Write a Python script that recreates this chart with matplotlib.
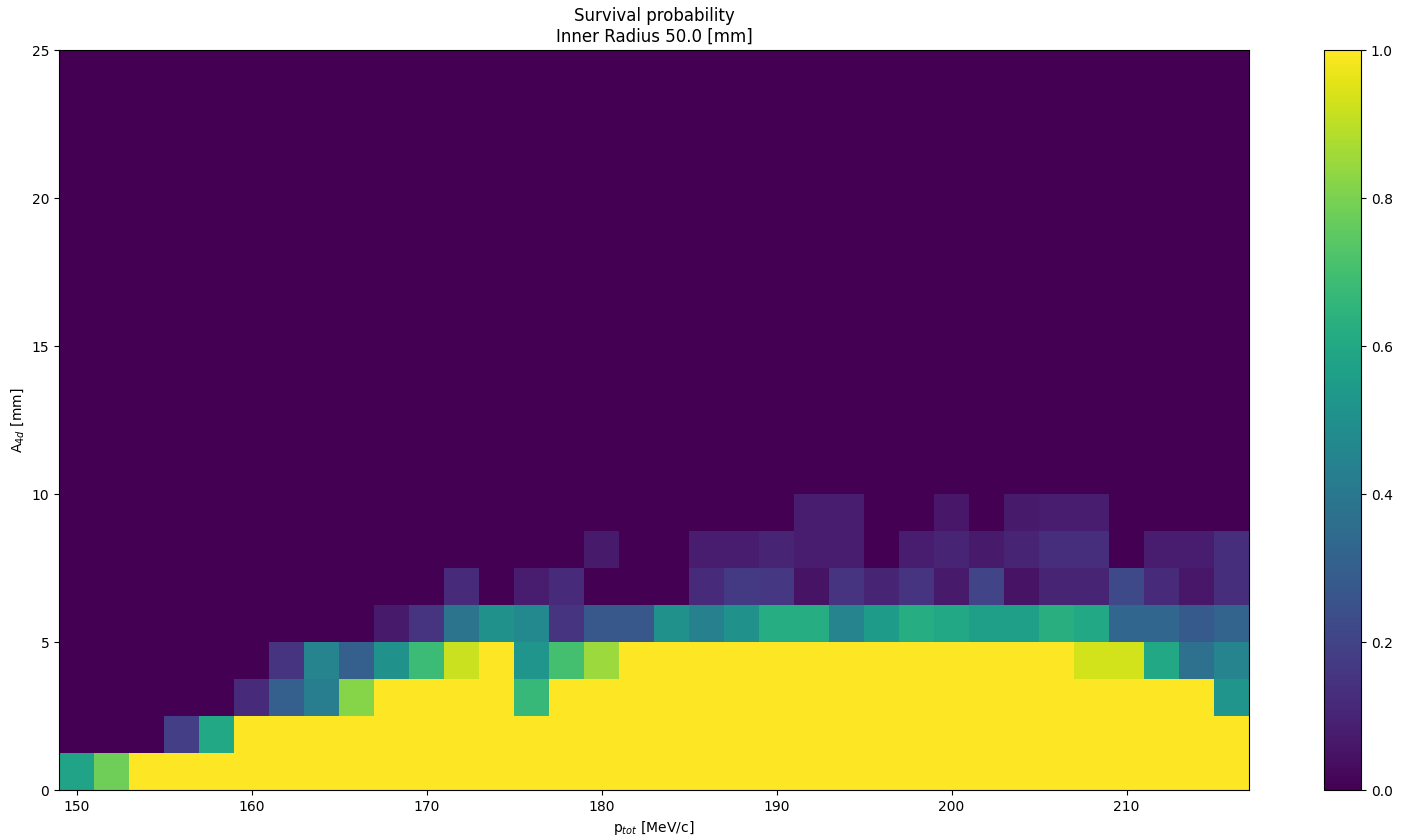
import numpy as np
import matplotlib
matplotlib.use("Agg")
import matplotlib.pyplot as plt

# bin edges
x_edges = np.arange(149, 219, 2)          # p_tot [MeV/c], 34 bins
y_edges = np.arange(0, 25.0001, 1.25)     # A_4d [mm], 20 bins

# survival probability per row (bottom row first), 34 columns each
row0 = [0.58, 0.78] + [1.0] * 32
row1 = [0, 0, 0, 0.18, 0.60] + [1.0] * 29
row2 = [0, 0, 0, 0, 0, 0.12, 0.30, 0.42, 0.82, 1, 1, 1, 1, 0.67] + [1.0] * 19 + [0.52]
row3 = [0] * 6 + [0.15, 0.45, 0.30, 0.50, 0.68, 0.92, 1, 0.52, 0.70, 0.85] + [1.0] * 13 + \
       [0.93, 0.93, 0.60, 0.37, 0.45]
row4 = [0] * 9 + [0.07, 0.15, 0.38, 0.50, 0.47, 0.15, 0.27, 0.27, 0.50, 0.43, 0.50, 0.62,
                  0.62, 0.45, 0.55, 0.62, 0.60, 0.56, 0.56, 0.63, 0.60, 0.33, 0.33, 0.28, 0.32]
row5 = [0] * 11 + [0.12, 0, 0.08, 0.12, 0, 0, 0, 0.12, 0.17, 0.16, 0.05, 0.15, 0.10, 0.15,
                   0.07, 0.20, 0.05, 0.10, 0.10, 0.22, 0.12, 0.06, 0.13]
row6 = [0] * 15 + [0.07, 0, 0, 0.08, 0.08, 0.10, 0.08, 0.08, 0, 0.08, 0.10, 0.07, 0.10,
                   0.13, 0.13, 0, 0.08, 0.08, 0.13]
row7 = [0] * 21 + [0.08, 0.08, 0, 0, 0.06, 0, 0.07, 0.08, 0.08, 0, 0, 0, 0]

rows = [row0, row1, row2, row3, row4, row5, row6, row7]
Z = np.zeros((len(y_edges) - 1, len(x_edges) - 1))
for j, r in enumerate(rows):
    Z[j, :] = r

fig = plt.figure(figsize=(14.03, 8.36), dpi=100)
ax = fig.add_axes([59 / 1403, 46 / 836, 1190 / 1403, 740 / 836])
cax = fig.add_axes([1324 / 1403, 46 / 836, 37 / 1403, 740 / 836])

mesh = ax.pcolormesh(x_edges, y_edges, Z, cmap="viridis", vmin=0, vmax=1)
ax.set_xlim(149, 217)
ax.set_ylim(0, 25)
ax.set_xticks([150, 160, 170, 180, 190, 200, 210])
ax.set_yticks([0, 5, 10, 15, 20, 25])
ax.set_title("Survival probability\nInner Radius 50.0 [mm]")
ax.set_xlabel(r"p$_{tot}$ [MeV/c]")
ax.set_ylabel(r"A$_{4d}$ [mm]")

cb = fig.colorbar(mesh, cax=cax)
cb.set_ticks([0.0, 0.2, 0.4, 0.6, 0.8, 1.0])

fig.savefig("out.png", dpi=100)
